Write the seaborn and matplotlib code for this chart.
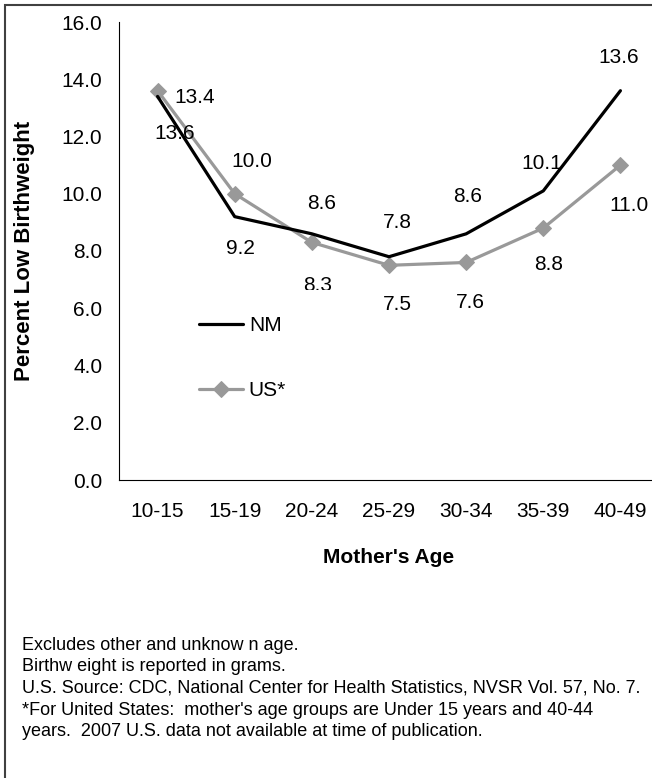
import pandas as pd
import matplotlib.pyplot as plt
import seaborn as sns
from matplotlib.patches import Rectangle

# datos
edades = ['10-15', '15-19', '20-24', '25-29', '30-34', '35-39', '40-49']
nm = [13.4, 9.2, 8.6, 7.8, 8.6, 10.1, 13.6]
us = [13.6, 10.0, 8.3, 7.5, 7.6, 8.8, 11.0]
yticks = [0, 2, 4, 6, 8, 10, 12, 14, 16]

notas = [
    "Excludes other and unknow n age.",
    "Birthw eight is reported in grams.",
    "U.S. Source: CDC, National Center for Health Statistics, NVSR Vol. 57, No. 7.",
    "*For United States:  mother's age groups are Under 15 years and 40-44",
    "years.  2007 U.S. data not available at time of publication.",
]

# desplazamiento de las etiquetas (puntos)
off_nm = [(27, -1), (4, -23), (7, 22), (6, 25), (1, 27), (-1, 20), (-1, 24)]
off_us = [(12, -31), (12, 23), (4, -31), (6, -28), (3, -29), (4, -26), (6, -29)]

sns.set_theme(style="white")
plt.rcParams['font.family'] = ['Liberation Sans', 'DejaVu Sans']
plt.rcParams['text.color'] = 'black'
plt.rcParams['axes.labelcolor'] = 'black'
plt.rcParams['xtick.color'] = 'black'
plt.rcParams['ytick.color'] = 'black'

W, H = 652, 778
fig = plt.figure(figsize=(W / 100, H / 100), dpi=100)
x0, x1, y0, y1 = 119, 659, 22, 480
ax = fig.add_axes([x0 / W, 1 - y1 / H, (x1 - x0) / W, (y1 - y0) / H])

df = pd.DataFrame({'edad': edades, 'NM': nm, 'US*': us})
sns.lineplot(data=df, x='edad', y='NM', ax=ax, color='black', lw=2.3,
             label='NM', sort=False, zorder=3)
sns.lineplot(data=df, x='edad', y='US*', ax=ax, color='#999999', lw=2.3,
             marker='D', markersize=8, markeredgecolor='#999999',
             label='US*', sort=False, zorder=2)

for i, (a, b) in enumerate(zip(nm, us)):
    ax.annotate(f'{a:.1f}', (i, a), xytext=off_nm[i], textcoords='offset points',
                ha='center', va='center', fontsize=15, zorder=3)
    ax.annotate(f'{b:.1f}', (i, b), xytext=off_us[i], textcoords='offset points',
                ha='center', va='center', fontsize=15, zorder=3)

ax.set_xlim(-0.5, len(edades) - 0.5)
ax.set_ylim(0, 16)
ax.set_yticks(yticks)
ax.set_yticklabels([f'{v:.1f}' for v in yticks])
ax.set_xticks(range(len(edades)))
ax.set_xticklabels(edades)
ax.set_xticks([i - 0.5 for i in range(len(edades) + 1)], minor=True)
ax.tick_params(axis='x', which='major', length=0, pad=16, labelsize=15)
ax.tick_params(axis='x', which='minor', length=5, width=0.8, color='black', direction='out')
ax.tick_params(axis='y', length=5, width=0.8, color='black', direction='out', pad=7, labelsize=15)
for lado in ['top', 'right']:
    ax.spines[lado].set_visible(False)
for lado in ['left', 'bottom']:
    ax.spines[lado].set_color('black')
    ax.spines[lado].set_linewidth(0.8)

ax.set_ylabel('Percent Low Birthweight', fontsize=16, fontweight='bold')
ax.yaxis.set_label_coords((35 - x0) / (x1 - x0), 0.5)
ax.set_xlabel("Mother's Age", fontsize=15, fontweight='bold')
ax.xaxis.set_label_coords(0.5, (y1 - 548) / (y1 - y0))

leg = ax.legend(loc='upper left', bbox_to_anchor=(54 / 540, (480 - 290) / 458, 168 / 540, 0),
                mode='expand', borderaxespad=0, fontsize=15, frameon=True,
                facecolor='white', edgecolor='none', framealpha=1, fancybox=False,
                labelspacing=2.21, handlelength=2.07, handletextpad=0.3, borderpad=1.27)
leg.set_zorder(5)

for k, t in enumerate(notas):
    fig.text(22 / W, 1 - (645 + 21.7 * k) / H, t, fontsize=13, va='center', ha='left')

# marco exterior (recortado a la derecha y abajo)
fig.add_artist(Rectangle((5 / W, -0.1), 1.2, 1 - 5 / H + 0.1, transform=fig.transFigure,
                         fill=False, edgecolor='#404040', lw=1.5))

fig.savefig('out.png', dpi=100)
